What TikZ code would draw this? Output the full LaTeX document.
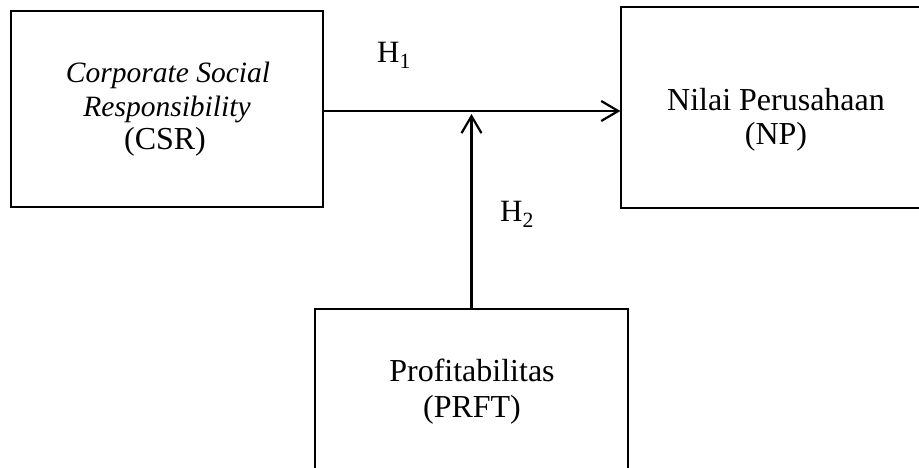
\documentclass[tikz,border=0pt]{standalone}
\usepackage{fontspec}
\setmainfont{Liberation Serif}
\usetikzlibrary{arrows.meta}
\tikzset{
  box/.style={draw=black, line width=1.2pt, inner sep=0pt, rectangle},
  txt/.style={anchor=base, inner sep=0pt, font=\fontsize{32}{34}\selectfont},
  itxt/.style={anchor=base, inner sep=0pt, font=\fontsize{29.5}{34}\selectfont\itshape},
  hlabel/.style={anchor=base west, inner sep=0pt, font=\fontsize{31}{34}\selectfont},
  link/.style={line width=2.2pt, -{Straight Barb[length=17pt,width=20pt,line width=2.2pt]}},
}
\begin{document}
\begin{tikzpicture}[x=1pt,y=-1pt]
\useasboundingbox (0,0) rectangle (919,468);
\clip (0,0) rectangle (919,468);
\node[box, minimum width=312pt, minimum height=196pt] (csr) at (167,109) {};
\node[box, minimum width=310pt, minimum height=201pt] (np) at (776,107.5) {};
\node[box, minimum width=313pt, minimum height=211pt] (prft) at (471.5,414.5) {};
% texts
\node[itxt] (t1) at (168,83) {Corporate Social};
\node[itxt] (t2) at (167,117) {Responsibility};
\node[txt] (t3) at (165,150) {(CSR)};
\node[txt] (t4) at (776,111) {Nilai Perusahaan};
\node[txt] (t5) at (776,145) {(NP)};
\node[txt] (t6) at (472,381) {Profitabilitas};
\node[txt] (t7) at (472,417) {(PRFT)};
\node[hlabel] (h1) at (377,63) {H\textsubscript{1}};
\node[hlabel] (h2) at (500,222) {H\textsubscript{2}};
% connectors
\coordinate (hy) at (0,111);
\coordinate (meet) at (471.5,114);
\draw[link] (csr.east |- hy) -- (np.west |- hy);
\draw[link] (prft.north) -- (meet);
\end{tikzpicture}
\end{document}
